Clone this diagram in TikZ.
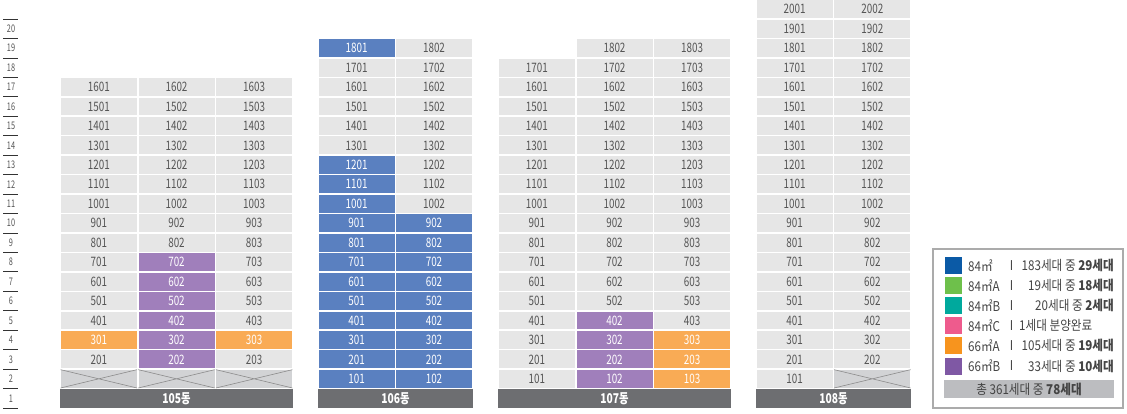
\documentclass[tikz,border=0pt]{standalone}
\usepackage{fontspec}
\setmainfont{Noto Sans CJK KR}
\newfontfamily\cellfont{Noto Sans CJK KR}[FakeStretch=0.76]
\newfontfamily\floorfont{Noto Sans CJK KR}[FakeStretch=0.7]
\newfontfamily\legfont{Noto Sans CJK KR}[FakeStretch=0.86]
\definecolor{cellgray}{HTML}{E6E6E6}
\definecolor{crossgray}{HTML}{D2D3D5}
\definecolor{xline}{HTML}{8C8C8C}
\definecolor{celltext}{HTML}{555555}
\definecolor{cellblue}{HTML}{5A80C0}
\definecolor{cellorange}{HTML}{F9AB55}
\definecolor{cellpurple}{HTML}{A07FBB}
\definecolor{bandgray}{HTML}{6D6E71}
\definecolor{legborder}{HTML}{ABABAB}
\definecolor{legtext}{HTML}{444444}
\definecolor{sblue}{HTML}{0B5AA6}
\definecolor{sgreen}{HTML}{6EC04B}
\definecolor{steal}{HTML}{00A99D}
\definecolor{spink}{HTML}{EE5B8D}
\definecolor{sorange}{HTML}{F7941E}
\definecolor{spurple}{HTML}{7F58A4}
\definecolor{totalgray}{HTML}{BCBDC0}
\tikzset{
  cellbox/.style={inner sep=0pt, minimum width=76pt, minimum height=17.9pt, font=\cellfont\fontsize{13}{13}\selectfont},
  crossbox/.style={inner sep=0pt, minimum width=76pt, minimum height=17.9pt, fill=crossgray},
  xlines/.style={draw=xline, line width=0.6pt},
  bandbox/.style={inner sep=0pt, minimum height=19pt, fill=bandgray, text=white, font=\cellfont\fontsize{13.5}{13.5}\selectfont\bfseries},
  floorlab/.style={font=\floorfont\fontsize{10.5}{10.5}\selectfont, text=celltext, inner sep=0pt},
  floorline/.style={draw=black!80, line width=0.8pt},
  swatch/.style={inner sep=0pt, minimum width=16.7pt, minimum height=17pt},
  legtxt/.style={font=\legfont\fontsize{13.5}{13.5}\selectfont, text=legtext, inner sep=0pt},
}
\newcommand\unitcell[5]{% name, xcenter, floor index, code, text
  \pgfmathsetmacro\yc{408-(#3+0.5)*19.45}%
  \ifcase#4 \def\fc{cellgray}\def\tc{celltext}%
  \or \def\fc{cellblue}\def\tc{white}%
  \or \def\fc{cellorange}\def\tc{white}%
  \or \def\fc{cellpurple}\def\tc{white}\fi
  \node[cellbox, fill=\fc, text=\tc] (#1) at (#2,\yc) {#5};}
\newcommand\crosscell[3]{% name, xcenter, floor index
  \pgfmathsetmacro\yc{408-(#3+0.5)*19.45}%
  \node[crossbox] (#1) at (#2,\yc) {};
  \draw[xlines] (#1.north west) -- (#1.south east) (#1.south west) -- (#1.north east);}
\begin{document}
\begin{tikzpicture}[x=1pt,y=-1pt]
\useasboundingbox (0,0) rectangle (1127,413);
% floor labels
\foreach \n in {1,...,20}{
  \pgfmathsetmacro\ly{408-(\n-0.5)*19.45}
  \pgfmathsetmacro\lt{408-\n*19.45}
  \node[floorlab] (fl\n) at (11,\ly) {\n};
  \draw[floorline] (3,\lt) -- (18,\lt);
}
\draw[floorline] (3,408.5) -- (18,408.5);
% building 105
\foreach \c/\xc in {1/98.8,2/176.5,3/254.2}{
  \crosscell{a\c x}{\xc}{1}
  \foreach \f in {2,...,16}{
    \pgfmathtruncatemacro\code{(\c==2 && \f<=7) ? 3 : ((\f==3) ? 2 : 0)}
    \unitcell{a\f-\c}{\xc}{\f}{\code}{\f0\c}
  }
}
\node[bandbox, minimum width=233pt] (band105) at (176.5,398.5) {105동};
% building 106
\foreach \c/\xc in {1/356.65,2/434}{
  \foreach \f in {1,...,18}{
    \pgfmathtruncatemacro\code{((\c==1 && (\f<=12 || \f==18)) || (\c==2 && \f<=9)) ? 1 : 0}
    \unitcell{b\f-\c}{\xc}{\f}{\code}{\f0\c}
  }
}
\node[bandbox, minimum width=155pt] (band106) at (395.5,398.5) {106동};
% building 107
\foreach \c/\xc in {1/536.85,2/614.5,3/692.15}{
  \foreach \f in {1,...,17}{
    \pgfmathtruncatemacro\code{(\c==2 && \f<=4) ? 3 : ((\c==3 && \f<=3) ? 2 : 0)}
    \unitcell{c\f-\c}{\xc}{\f}{\code}{\f0\c}
  }
}
\unitcell{c18-2}{614.5}{18}{0}{1802}
\unitcell{c18-3}{692.15}{18}{0}{1803}
\node[bandbox, minimum width=233pt] (band107) at (614.5,398.5) {107동};
% building 108
\unitcell{d1-1}{794.65}{1}{0}{101}
\crosscell{d1x}{872.35}{1}
\foreach \c/\xc in {1/794.65,2/872.35}{
  \foreach \f in {2,...,20}{
    \unitcell{d\f-\c}{\xc}{\f}{0}{\f0\c}
  }
}
\node[bandbox, minimum width=155pt] (band108) at (833.5,398.5) {108동};
% legend
\draw[draw=legborder, line width=1.2pt] (933,249) rectangle (1123,408);
\foreach \i/\col/\typ/\cnt in {0/sblue/84㎡/183세대 중 \textbf{29세대},
  1/sgreen/84㎡A/19세대 중 \textbf{18세대},
  2/steal/84㎡B/20세대 중 \textbf{2세대},
  4/sorange/66㎡A/105세대 중 \textbf{19세대},
  5/spurple/66㎡B/33세대 중 \textbf{10세대}}{
  \pgfmathsetmacro\ry{265.5+\i*20.1}
  \node[swatch, fill=\col] (sw\i) at (953.3,\ry) {};
  \node[legtxt, anchor=west] (ty\i) at (968,\ry) {\typ};
  \node[legtxt] (sep\i) at (1011.5,\ry) {I};
  \node[legtxt, anchor=east] (ct\i) at (1114,\ry) {\cnt};
}
\node[swatch, fill=spink] (sw3) at (953.3,325.8) {};
\node[legtxt, anchor=west] (ty3) at (968,325.8) {84㎡C};
\node[legtxt] (sep3) at (1011.5,325.8) {I};
\node[legtxt, anchor=west] (ct3) at (1019,325.8) {1세대 분양완료};
\node[inner sep=0pt, minimum width=170pt, minimum height=18pt, fill=totalgray, text=legtext, font=\legfont\fontsize{13.5}{13.5}\selectfont] (total) at (1029,389) {총 361세대 중 \textbf{78세대}};
\end{tikzpicture}
\end{document}
